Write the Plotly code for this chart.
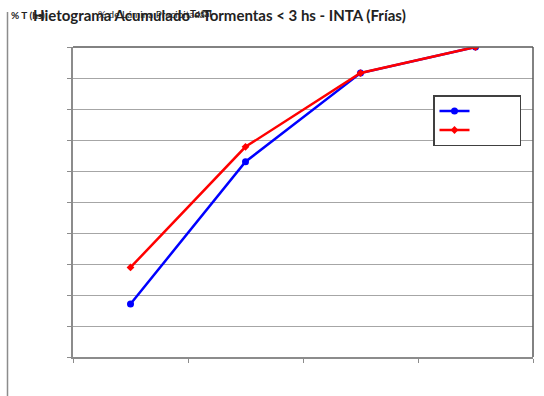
import plotly.graph_objects as go

# Fraction of storm duration (category axis, labels hidden)
categories = ["25%", "50%", "75%", "100%"]
# Accumulated rainfall depth (% of total)
serie_tormentas = [17.1, 63.0, 91.6, 100.0]
serie_promedio = [28.9, 67.8, 91.6, 100.0]

W, H = 544, 396
L, R, T, B = 73, 11, 47, 39
PW, PH = W - L - R, H - T - B


def px_x(x):
    return (x - L) / PW


def px_y(y):
    return (H - B - y) / PH


fig = go.Figure()
fig.add_trace(go.Scatter(
    x=categories, y=serie_tormentas, mode="lines+markers",
    name="\u00a0" * 17,
    line=dict(color="#0000FF", width=2.5),
    marker=dict(symbol="circle", size=7, color="#0000FF"),
))
fig.add_trace(go.Scatter(
    x=categories, y=serie_promedio, mode="lines+markers",
    name="\u00a0" * 17,
    line=dict(color="#FF0000", width=2.5),
    marker=dict(symbol="diamond", size=6, color="#FF0000"),
))

fig.update_xaxes(
    type="category", range=[-0.5, 3.5], tickson="boundaries",
    showticklabels=False, ticks="outside", ticklen=4, tickcolor="#8C8C8C",
    showgrid=False, showline=True, linecolor="#8C8C8C", linewidth=1.5,
    zeroline=False,
)
fig.update_yaxes(
    range=[0, 100], dtick=10, showticklabels=False, ticks="outside",
    ticklen=4, tickcolor="#8C8C8C", showgrid=True, gridcolor="#A6A6A6",
    gridwidth=1, showline=True, linecolor="#8C8C8C", linewidth=1.5,
    zeroline=False,
)

shapes = [
    # darker top and right edges of the plot area
    dict(type="line", xref="paper", yref="paper", x0=0, x1=1, y0=1, y1=1,
         line=dict(color="#595959", width=1.5)),
    dict(type="line", xref="paper", yref="paper", x0=1, x1=1, y0=0, y1=1,
         line=dict(color="#595959", width=1.5)),
    # outer frame edge on the left
    dict(type="line", xref="paper", yref="paper", x0=px_x(7.5), x1=px_x(7.5),
         y0=px_y(12), y1=px_y(396), line=dict(color="#8C8C8C", width=1.5)),
]

small = dict(family="Lato", size=10, color="#222222")
annotations = [
    dict(text="<b>% T (hs)</b>", xref="paper", yref="paper", x=px_x(9),
         y=px_y(15), xanchor="left", yanchor="middle", showarrow=False,
         font=small),
    dict(text="% de Lámina Precipitada", xref="paper", yref="paper",
         x=px_x(96), y=px_y(14), xanchor="left", yanchor="middle",
         showarrow=False, font=small),
    dict(text="<b>Total</b>", xref="paper", yref="paper", x=px_x(188),
         y=px_y(13), xanchor="left", yanchor="middle", showarrow=False,
         font=small),
    dict(text="<b>Hietograma Acumulado - Tormentas &lt; 3 hs - INTA (Frías)</b>",
         xref="paper", yref="paper", x=px_x(31), y=px_y(15),
         xanchor="left", yanchor="middle", showarrow=False,
         font=dict(family="Lato", size=15, color="#222222")),
]

fig.update_layout(
    width=W, height=H,
    margin=dict(l=L, r=R, t=T, b=B, autoexpand=False),
    paper_bgcolor="white", plot_bgcolor="white",
    showlegend=True,
    legend=dict(
        x=px_x(433), y=px_y(95), xanchor="left", yanchor="top",
        bgcolor="white", bordercolor="#404040", borderwidth=1.5,
        font=dict(family="Lato", size=9), tracegroupgap=0,
        itemwidth=30,
    ),
    shapes=shapes,
    annotations=annotations,
)

fig.write_html("out.html")
